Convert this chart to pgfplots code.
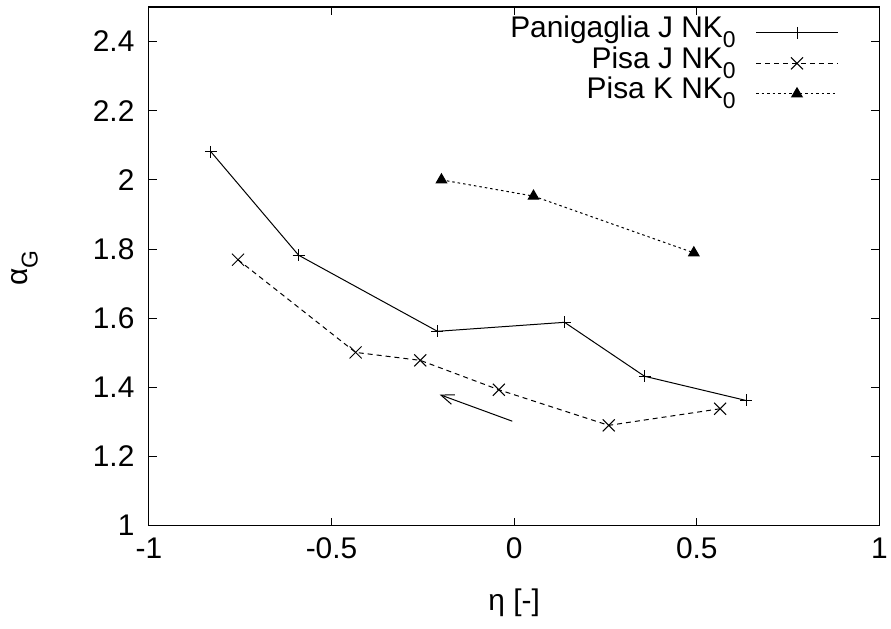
\documentclass[border=0pt]{standalone}
\usepackage{fontspec}
\setmainfont{Liberation Sans}
\usepackage{pgfplots}
\pgfplotsset{compat=1.18}
\usetikzlibrary{arrows.meta,calc}
\newcommand{\myfont}{\fontsize{30}{35}\selectfont}
\newcommand{\sub}[1]{\raisebox{-10bp}{\fontsize{23}{27}\selectfont #1}}

\begin{document}
\begin{tikzpicture}
\begin{axis}[
  scale only axis, width=731bp, height=519bp,
  xmin=-1, xmax=1, ymin=1, ymax=2.5,
  xtick={-1,-0.5,0,0.5,1},
  ytick={1,1.2,1.4,1.6,1.8,2,2.2,2.4},
  /pgf/number format/assume math mode=true,
  tick label style={font=\myfont},
  yticklabel style={xshift=-11bp},
  xticklabel style={yshift=-9bp},
  major tick length=8bp,
  tick style={line width=1bp, black},
  axis line style={line width=1.2bp},
  xlabel={η [-]},
  ylabel={α\sub{G}},
  label style={font=\myfont},
  xlabel style={at={(axis description cs:0.5,-0.148)}, anchor=center},
  ylabel style={at={(axis description cs:-0.170,0.497)}, anchor=center},
  legend plot pos=right,
  legend cell align=right,
  legend style={draw=none, fill=none, at={(axis description cs:0.944,0.979)}, anchor=north east,
    inner sep=0pt, outer sep=0pt, row sep=0.5bp, column sep=20bp, font=\myfont,
    nodes={inner sep=0pt, text height=20bp, text depth=10bp}},
  legend image code/.code={\draw[mark repeat=2,mark phase=2,#1] plot coordinates {(0bp,0bp)(41bp,0bp)(82bp,0bp)};},
]
\addplot[black, line width=1bp, mark=+, mark size=6bp, mark options={solid}] coordinates {
  (-0.830,2.081) (-0.590,1.782) (-0.210,1.562) (0.138,1.588) (0.357,1.432) (0.635,1.362)
};
\addlegendentry{Panigaglia J NK\sub{0}}
\addplot[black, line width=1bp, dash pattern=on 5bp off 4bp, mark=x, mark size=8.5bp, mark options={solid}] coordinates {
  (-0.756,1.769) (-0.434,1.501) (-0.257,1.478) (-0.042,1.393) (0.259,1.290) (0.564,1.338)
};
\addlegendentry{Pisa J NK\sub{0}}
\addplot[black, line width=1bp, dash pattern=on 2.5bp off 3bp, mark=triangle*, mark size=6bp, mark options={solid}] coordinates {
  (-0.199,2.000) (0.053,1.953) (0.492,1.789)
};
\addlegendentry{Pisa K NK\sub{0}}
\draw[-{Straight Barb[length=13bp,width=10bp]}, line width=1bp] (axis cs:-0.005,1.302) -- (axis cs:-0.204,1.379);
\end{axis}
\path ($(current axis.south west)+(-149bp,-103bp)$) rectangle ($(current axis.north east)+(11bp,7bp)$);
\end{tikzpicture}
\end{document}
